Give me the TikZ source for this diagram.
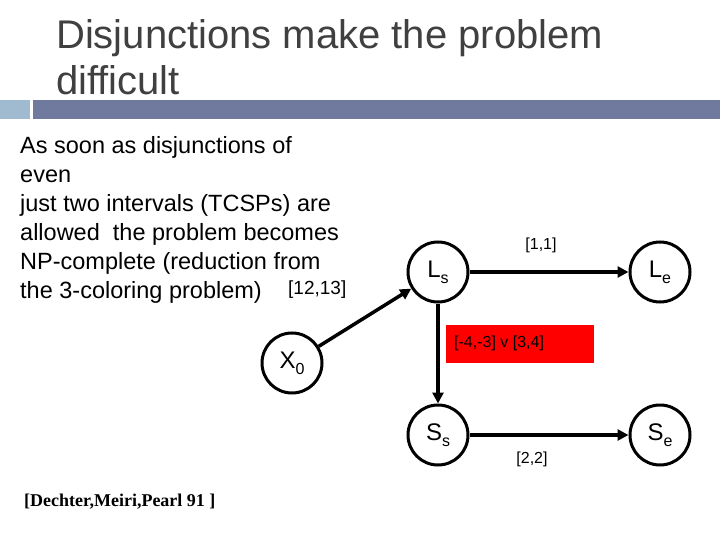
\documentclass[tikz,border=0pt]{standalone}
\usepackage{fontspec}
\setmainfont{Liberation Sans}
\newfontfamily\timesf{Liberation Serif}
\usetikzlibrary{arrows.meta}
\tikzset{
  circ/.style={circle,draw,line width=3pt,minimum size=60pt,inner sep=0pt,font=\fontsize{24}{26}\selectfont},
  conn/.style={line width=3.5pt,-{Triangle[length=11pt,width=11pt]}},
  lbl/.style={font=\fontsize{16}{18}\selectfont,inner sep=0pt},
  body/.style={font=\fontsize{23.5}{29}\selectfont,anchor=north west,align=left,inner sep=0pt}
}
\newcommand{\subx}[2]{#1\raisebox{-6pt}{\fontsize{16}{16}\selectfont #2}}
\begin{document}
\begin{tikzpicture}[x=1pt,y=-1pt]
\useasboundingbox (0,0) rectangle (720,540);
\fill[white] (0,0) rectangle (720,540);
% title
\node[font=\fontsize{40}{42}\selectfont,color=black!75,anchor=base west,inner sep=0pt] (t1) at (56,49) {Disjunctions make the problem};
\node[font=\fontsize{40}{42}\selectfont,color=black!75,anchor=base west,inner sep=0pt] (t2) at (56,95) {difficult};
% bar
\fill[color={rgb,255:red,160;green,186;blue,208}] (0,100) rectangle (30,119);
\fill[color={rgb,255:red,112;green,122;blue,158}] (33,100) rectangle (720,119);
% body
\node[body] (b) at (20,136) {As soon as disjunctions of\\even\\just two intervals (TCSPs) are\\allowed\ \ the problem becomes\\NP-complete (reduction from\\the 3-coloring problem)};
\node[lbl,font=\fontsize{19}{20}\selectfont,anchor=base west] (ref) at (288,294) {[12,13]};
% nodes
\node[circ] (X0) at (292,363) {\subx{X}{0}};
\node[circ] (Ls) at (438,272) {\subx{L}{s}};
\node[circ] (Le) at (660,272) {\subx{L}{e}};
\node[circ] (Ss) at (438,435) {\subx{S}{s}};
\node[circ] (Se) at (660,435) {\subx{S}{e}};
% connectors
\draw[conn] (X0) -- (Ls);
\draw[conn] (Ls) -- (Le);
\draw[conn] (Ls) -- (Ss);
\draw[conn] (Ss) -- (Se);
% labels
\node[lbl] (l11) at (541,245) {[1,1]};
\node[lbl] (l22) at (532,459) {[2,2]};
\node[fill=red,minimum width=148pt,minimum height=38pt,inner sep=0pt] (rb) at (520,344) {};
\node[lbl,anchor=west] (ld) at (454,343) {[-4,-3] v [3,4]};
% citation
\node[font=\timesf\bfseries\fontsize{18}{20}\selectfont,anchor=base west,inner sep=0pt] (cit) at (24,506) {[Dechter,Meiri,Pearl 91 ]};
\end{tikzpicture}
\end{document}
